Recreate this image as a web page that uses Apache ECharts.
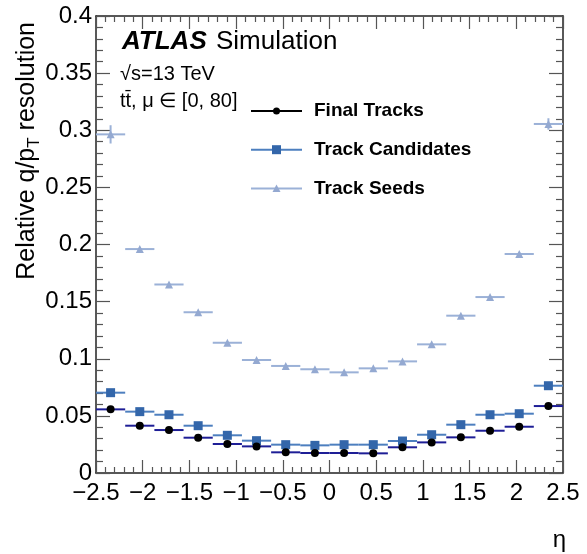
<!DOCTYPE html>
<html>
<head>
<meta charset="utf-8">
<script src="https://cdn.jsdelivr.net/npm/echarts@6/dist/echarts.min.js"></script>
<style>
html,body{margin:0;padding:0;background:#fff;}
#chart{width:587px;height:554px;}
</style>
</head>
<body>
<div id="chart"></div>
<script>
// ---- data ----
var binCenters = [-2.34375, -2.03125, -1.71875, -1.40625, -1.09375, -0.78125, -0.46875, -0.15625,
                  0.15625, 0.46875, 0.78125, 1.09375, 1.40625, 1.71875, 2.03125, 2.34375];
var binHalfWidth = 0.15625;
var finalTracks = [0.0557, 0.0414, 0.0376, 0.0309, 0.0254, 0.0233, 0.0181, 0.0175,
                   0.0175, 0.0172, 0.0225, 0.0268, 0.0312, 0.0370, 0.0405, 0.0586];
var finalTracksErr = [0.0008, 0.0004, 0.0003, 0.0003, 0.0002, 0.0002, 0.0002, 0.0002,
                      0.0002, 0.0002, 0.0002, 0.0002, 0.0003, 0.0003, 0.0004, 0.0008];
var trackCandidates = [0.0703, 0.0537, 0.0510, 0.0414, 0.0330, 0.0283, 0.0248, 0.0242,
                       0.0248, 0.0248, 0.0280, 0.0335, 0.0423, 0.0510, 0.0519, 0.0764];
var trackCandidatesErr = [0.0008, 0.0004, 0.0003, 0.0003, 0.0002, 0.0002, 0.0002, 0.0002,
                          0.0002, 0.0002, 0.0002, 0.0002, 0.0003, 0.0003, 0.0004, 0.0008];
var trackSeeds = [0.2964, 0.1960, 0.1650, 0.1407, 0.1140, 0.0989, 0.0937, 0.0908,
                  0.0881, 0.0916, 0.0977, 0.1126, 0.1377, 0.1540, 0.1917, 0.3055];
var trackSeedsErr = [0.0080, 0.0015, 0.0012, 0.0010, 0.0008, 0.0006, 0.0006, 0.0006,
                     0.0006, 0.0006, 0.0006, 0.0008, 0.0010, 0.0012, 0.0015, 0.0050];
var xTicks = [-2.5, -2, -1.5, -1, -0.5, 0, 0.5, 1, 1.5, 2, 2.5];
var yTicks = [0, 0.05, 0.1, 0.15, 0.2, 0.25, 0.3, 0.35, 0.4];
var seriesNames = ['Final Tracks', 'Track Candidates', 'Track Seeds'];

// ---- styles ----
var FONT = '"Liberation Sans", Arial, Helvetica, sans-serif';
var markerColors = ['#000000', '#3366aa', '#94a9d1'];
var barColors = ['#1e1e96', '#4d7fbf', '#9bb1d7'];
var legendLineColors = ['#000000', '#4d7fbf', '#9bb1d7'];
var symbols = ['circle', 'rect', 'triangle'];
var symbolSizes = [8, 9, 8];

function pts(vals, errs) {
  return binCenters.map(function (x, i) { return [x, vals[i], errs[i]]; });
}
var allVals = [finalTracks, trackCandidates, trackSeeds];
var allErrs = [finalTracksErr, trackCandidatesErr, trackSeedsErr];

function errSeries(idx) {
  return {
    type: 'custom',
    xAxisIndex: 0, yAxisIndex: 0,
    z: 2 + (2 - idx) * 2,
    silent: true,
    data: pts(allVals[idx], allErrs[idx]),
    renderItem: function (params, api) {
      var x = api.value(0), y = api.value(1), e = api.value(2);
      var a = api.coord([x - binHalfWidth, y]);
      var b = api.coord([x + binHalfWidth, y]);
      var c = api.coord([x, y - e]);
      var d = api.coord([x, y + e]);
      var st = { stroke: barColors[idx], lineWidth: 2 };
      return {
        type: 'group',
        children: [
          { type: 'line', shape: { x1: a[0], y1: a[1], x2: b[0], y2: b[1] }, style: st },
          { type: 'line', shape: { x1: c[0], y1: c[1], x2: d[0], y2: d[1] }, style: st }
        ]
      };
    }
  };
}
function markerSeries(idx) {
  return {
    type: 'scatter',
    name: seriesNames[idx],
    xAxisIndex: 0, yAxisIndex: 0,
    z: 3 + (2 - idx) * 2,
    symbol: symbols[idx],
    symbolSize: symbolSizes[idx],
    itemStyle: { color: markerColors[idx], opacity: 1 },
    data: binCenters.map(function (x, i) { return [x, allVals[idx][i]]; })
  };
}

var series = [];
[2, 1, 0].forEach(function (i) { series.push(errSeries(i)); series.push(markerSeries(i)); });

// legend drawn as graphic
var legendX1 = 251, legendX2 = 302, legendTextX = 314, legendY0 = 111, legendDy = 38.7;
var graphics = [];
seriesNames.forEach(function (n, i) {
  var y = legendY0 + i * legendDy;
  graphics.push({ type: 'line', shape: { x1: legendX1, y1: y, x2: legendX2, y2: y },
                  style: { stroke: legendLineColors[i], lineWidth: 2 }, z: 10 });
  var mx = (legendX1 + legendX2) / 2;
  if (i === 0) graphics.push({ type: 'circle', shape: { cx: mx, cy: y, r: 3.5 }, style: { fill: markerColors[0] }, z: 11 });
  if (i === 1) graphics.push({ type: 'rect', shape: { x: mx - 4.5, y: y - 4.5, width: 9, height: 9 }, style: { fill: markerColors[1] }, z: 11 });
  if (i === 2) graphics.push({ type: 'polygon', shape: { points: [[mx - 4, y + 3.5], [mx + 4, y + 3.5], [mx, y - 4]] }, style: { fill: markerColors[2] }, z: 11 });
  graphics.push({ type: 'text', x: legendTextX, y: y, z: 11,
                  style: { text: n, font: 'bold 19px ' + FONT, fill: '#000', textAlign: 'left', textVerticalAlign: 'middle' } });
});
graphics.push({ type: 'text', x: 122, y: 42, z: 11,
  style: { text: 'ATLAS', font: 'italic bold 26px ' + FONT, fill: '#000', textAlign: 'left', textVerticalAlign: 'middle' } });
graphics.push({ type: 'text', x: 216, y: 42, z: 11,
  style: { text: 'Simulation', font: '26px ' + FONT, fill: '#000', textAlign: 'left', textVerticalAlign: 'middle' } });
graphics.push({ type: 'text', x: 120, y: 74, z: 11,
  style: { text: '\u221As=13 TeV', font: '20px ' + FONT, fill: '#000', textAlign: 'left', textVerticalAlign: 'middle' } });
graphics.push({ type: 'text', x: 120, y: 101, z: 11,
  style: { text: 't\u0074\u0304, \u03BC \u2208 [0, 80]', font: '20px ' + FONT, fill: '#000', textAlign: 'left', textVerticalAlign: 'middle' } });
// y-axis title (rotated)
graphics.push({ type: 'text', x: 27, y: 22, rotation: Math.PI / 2, z: 11,
  style: { text: 'Relative q/p{s|T} resolution', textAlign: 'right', textVerticalAlign: 'middle',
    font: '25px ' + FONT, fill: '#000',
    rich: { s: { font: '17px ' + FONT, fill: '#000', padding: [14, 0, 0, 0] } } } });
// x-axis title
graphics.push({ type: 'text', x: 566, y: 540, z: 11,
  style: { text: '\u03B7', font: '24px ' + FONT, fill: '#000', textAlign: 'right', textVerticalAlign: 'middle' } });

var axisLineStyle = { color: '#222', width: 1.5 };
var tickStyle = { color: '#555', width: 1.2 };
function xAx(pos, showLabel) {
  return {
    type: 'value', position: pos, min: xTicks[0], max: xTicks[xTicks.length - 1], interval: 0.5,
    splitLine: { show: false },
    axisLine: { show: true, onZero: false, lineStyle: axisLineStyle },
    axisTick: { show: true, inside: true, length: 13, lineStyle: tickStyle },
    minorTick: { show: true, splitNumber: 5, length: 6, lineStyle: tickStyle },
    axisLabel: { show: showLabel, margin: 8, color: '#000', fontFamily: FONT, fontSize: 24,
      showMinLabel: true, showMaxLabel: true,
      formatter: function (v) { return String(Math.round(v * 10) / 10).replace('-', '\u2212'); } }
  };
}
function yAx(pos, showLabel) {
  return {
    type: 'value', position: pos, min: yTicks[0], max: yTicks[yTicks.length - 1], interval: 0.05,
    splitLine: { show: false },
    axisLine: { show: true, onZero: false, lineStyle: axisLineStyle },
    axisTick: { show: true, inside: true, length: 14, lineStyle: tickStyle },
    minorTick: { show: true, splitNumber: 5, length: 7, lineStyle: tickStyle },
    axisLabel: { show: showLabel, margin: 4, color: '#000', fontFamily: FONT, fontSize: 24,
      showMinLabel: true, showMaxLabel: true,
      formatter: function (v) { return String(Math.round(v * 100) / 100); } }
  };
}

var chart = echarts.init(document.getElementById('chart'), null, { renderer: 'canvas' });
chart.setOption({
  animation: false,
  backgroundColor: '#fff',
  grid: { left: 96, top: 16, right: 24, bottom: 81, containLabel: false },
  xAxis: [xAx('bottom', true), xAx('top', false)],
  yAxis: [yAx('left', true), yAx('right', false)],
  graphic: graphics,
  series: series
});
</script>
</body>
</html>
